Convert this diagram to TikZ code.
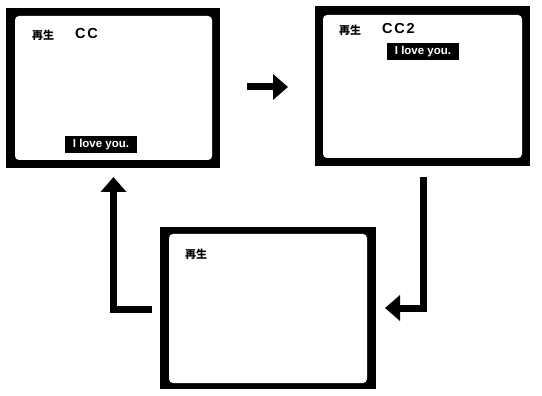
\documentclass[tikz,border=0pt]{standalone}
\usepackage{fontspec}
\setmainfont{Liberation Sans}
\newfontfamily\cjk{Noto Sans CJK JP}
\usetikzlibrary{arrows.meta}
\tikzset{
  frame/.style={fill=black, draw=none},
  screen/.style={fill=white, draw=none, rounded corners=4pt},
  flow/.style={line width=7pt, -{Triangle[width=25pt,length=15pt]}},
  caption/.style={fill=black, text=white, font=\bfseries\fontsize{11.5}{12}\selectfont, inner xsep=4pt, inner ysep=2pt, minimum height=17pt, minimum width=72pt},
  mode/.style={font=\cjk\bfseries\fontsize{11}{12}\selectfont, inner sep=0pt, anchor=west},
  chan/.style={font=\bfseries\fontsize{14.5}{15}\selectfont\addfontfeatures{LetterSpace=12}, inner sep=0pt, anchor=base west}
}
\begin{document}
\begin{tikzpicture}[x=1pt,y=-1pt]
\useasboundingbox[fill=white] (0,0) rectangle (542,396);
% screen 1
\path[frame] (6,8) rectangle (220,168);
\path[screen] (15,16) rectangle (212,160);
\node[mode] (m1) at (32,35) {再生};
\node[chan] (c1) at (75,39) {CC};
\node[caption] (t1) at (101,144.5) {I love you.};
% screen 2
\path[frame] (315,6) rectangle (530,166);
\path[screen] (323,15) rectangle (522,158);
\node[mode] (m2) at (339,30) {再生};
\node[chan] (c2) at (382,33.5) {CC2};
\node[caption] (t2) at (423,51.5) {I love you.};
% screen 3
\path[frame] (160,227) rectangle (376,389);
\path[screen] (169,234) rectangle (367,383);
\node[mode] (m3) at (185,254) {再生};
% arrows
\coordinate (a1s) at (247,87);
\coordinate (a1e) at (288,87);
\draw[flow] (a1s) -- (a1e);
\coordinate (a2s) at (423,177);
\coordinate (a2c) at (423,308);
\coordinate (a2e) at (385,308);
\draw[flow] (a2s) -- (a2c) -- (a2e);
\coordinate (a3s) at (152,309);
\coordinate (a3c) at (113.5,309);
\coordinate (a3e) at (113.5,177);
\draw[flow] (a3s) -- (a3c) -- (a3e);
\end{tikzpicture}
\end{document}
